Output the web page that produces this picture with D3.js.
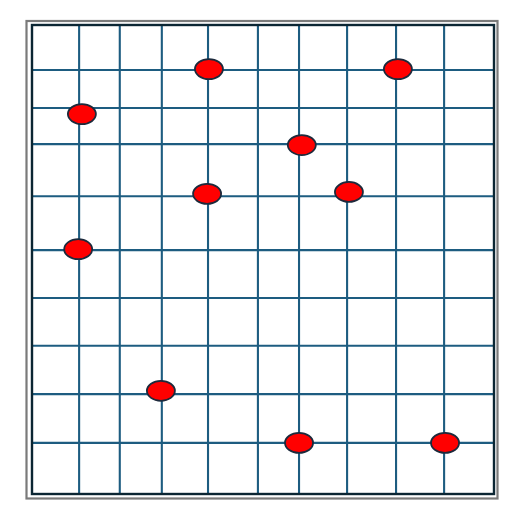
<!DOCTYPE html>
<html><head><meta charset="utf-8">
<script src="https://cdn.jsdelivr.net/npm/d3@7"></script>
<style>body{margin:0;background:#fff;}svg{display:block;}</style>
</head><body>
<script>
const gridX = [10.2, 19.0, 28.1, 38.1, 48.9, 57.8, 68.2, 78.8, 89.2];
const gridY = [10.9, 21.3, 31.6, 41.8, 52.0, 63.5, 74.6, 82.3, 90.4];
const pointX = [38.3, 79.2, 10.8, 58.4, 37.9, 68.6, 10.0, 27.9, 57.8, 89.4];
const pointY = [90.6, 90.6, 81.0, 74.4, 64.0, 64.4, 52.2, 22.0, 10.9, 10.9];

(function () {
const W = 520, H = 514;
const svg = d3.select("body").append("svg").attr("width", W).attr("height", H);
const pLeft = 32, pRight = 494, pTop = 25, pBottom = 494;
const x = d3.scaleLinear().domain([0, 100]).range([pLeft, pRight]);
const y = d3.scaleLinear().domain([0, 100]).range([pBottom, pTop]);

// outer gray frame
svg.append("rect").attr("x", 26.5).attr("y", 21).attr("width", 471).attr("height", 477.5)
  .attr("fill", "#fff").attr("stroke", "#7a7a7a").attr("stroke-width", 2.2);

const gridColor = "#1d5c80";
svg.append("g").selectAll("line").data(gridX).join("line")
  .attr("x1", d => x(d)).attr("x2", d => x(d))
  .attr("y1", pTop).attr("y2", pBottom)
  .attr("stroke", gridColor).attr("stroke-width", 2.1);
svg.append("g").selectAll("line").data(gridY).join("line")
  .attr("y1", d => y(d)).attr("y2", d => y(d))
  .attr("x1", pLeft).attr("x2", pRight)
  .attr("stroke", gridColor).attr("stroke-width", 2.1);

// inner dark frame
svg.append("rect").attr("x", pLeft).attr("y", pTop).attr("width", pRight - pLeft).attr("height", pBottom - pTop)
  .attr("fill", "none").attr("stroke", "#0b2633").attr("stroke-width", 2.4);

svg.append("g").selectAll("ellipse").data(pointX.map((d, i) => [d, pointY[i]])).join("ellipse")
  .attr("cx", d => x(d[0])).attr("cy", d => y(d[1]))
  .attr("rx", 14).attr("ry", 10)
  .attr("fill", "#ff0000").attr("stroke", "#1c2a3c").attr("stroke-width", 1.8);
})();
</script>
</body></html>
